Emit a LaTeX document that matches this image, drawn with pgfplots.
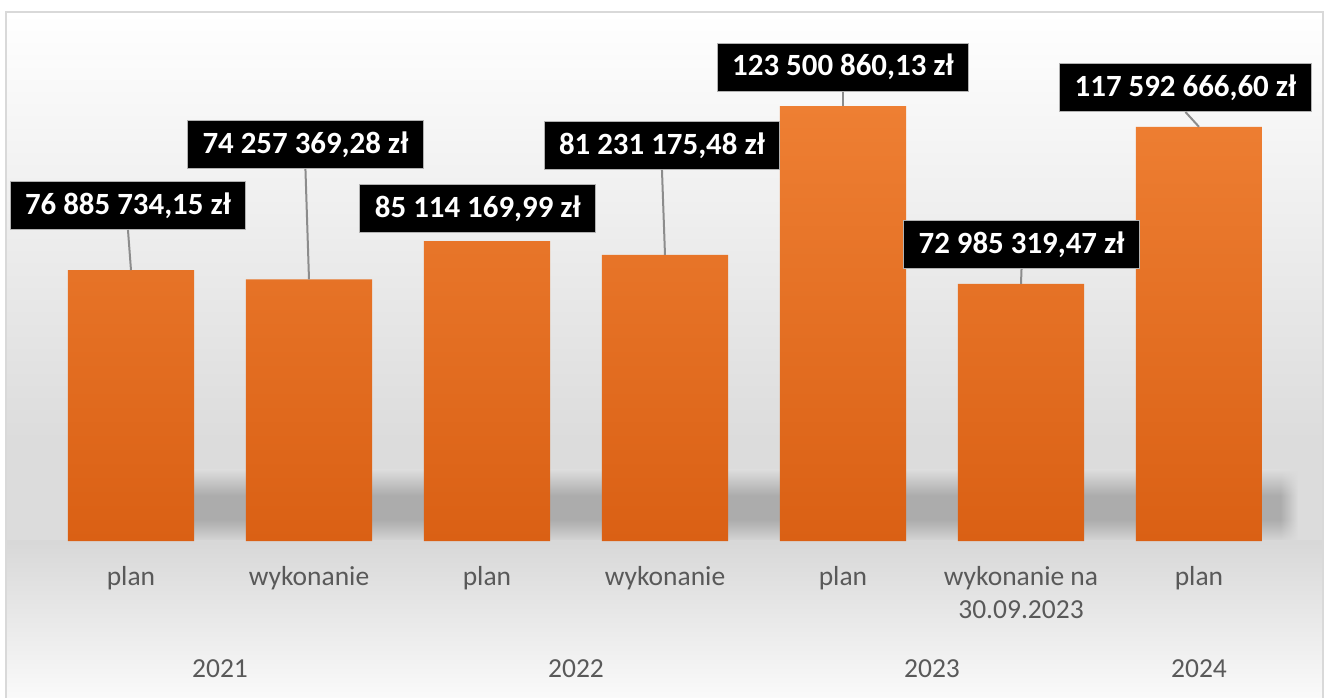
\documentclass[border=0pt]{standalone}
\usepackage{pgfplots}
\pgfplotsset{compat=1.18}
\usetikzlibrary{fadings}
\usepackage{fontspec}
\setmainfont{Carlito}

\definecolor{barTop}{HTML}{EE7F33}
\definecolor{barBot}{HTML}{DA6014}
\definecolor{lblGray}{HTML}{595959}
\definecolor{frameGray}{HTML}{D9D9D9}
\definecolor{leadGray}{HTML}{8C8C8C}
\definecolor{floorGray}{HTML}{DCDCDC}
\definecolor{shadowDark}{HTML}{ACACAC}
\definecolor{shadowLow}{HTML}{D6D6D6}

% floor shadow behind the bars
\pgfdeclareverticalshading{floorband}{100bp}{%
  color(0bp)=(shadowLow); color(25bp)=(shadowLow);
  color(40bp)=(shadowDark); color(57bp)=(shadowDark);
  color(75bp)=(floorGray); color(100bp)=(floorGray)}

\begin{document}
\begin{tikzpicture}[
    lbl/.style={fill=black, text=white, draw=gray!60, line width=0.5bp,
      font=\bfseries\fontsize{15.5}{18}\selectfont,
      inner xsep=7.5bp, inner ysep=0pt, minimum height=24bp},
    leader/.style={leadGray, line width=1bp},
    yr/.style={font=\fontsize{13.8}{16.5}\selectfont, text=lblGray, anchor=base, yshift=-68bp},
  ]
  % page = 1330 x 698 px, 0.5bp per px
  \path[use as bounding box] (0,0) rectangle (665bp,349bp);

  % background of the chart area
  \shade[top color=white, bottom color=floorGray] (3bp,128.8bp) rectangle (661.5bp,343bp);
  \fill[floorGray] (3bp,78.5bp) rectangle (661.5bp,129.2bp);
  \shade[shading=floorband] (34bp,78.5bp) rectangle (640.2bp,114bp);
  \shade[shading=floorband, path fading=east] (640bp,78.5bp) rectangle (649bp,114bp);
  \shade[top color=shadowLow!70!floorGray, bottom color=white!98!black] (3bp,0bp) rectangle (661.5bp,78.6bp);
  \draw[frameGray, line width=1.2bp] (3bp,-2bp) -- (3bp,343bp) -- (661.5bp,343bp) -- (661.5bp,-2bp);

  \begin{axis}[
    at={(21bp,78.5bp)}, anchor=south west,
    scale only axis,
    width=623bp, height=264.5bp,
    xmin=-0.5, xmax=6.5,
    ymin=0, ymax=150.2,
    clip=false,
    axis line style={draw=none},
    major tick length=0pt,
    ytick=\empty,
    xtick={0,...,6},
    xticklabels={plan, wykonanie, plan, wykonanie, plan, {wykonanie na\\30.09.2023}, plan},
    xticklabel style={font=\fontsize{13.8}{16.5}\selectfont, text=lblGray,
      align=center, anchor=north, inner sep=0pt, yshift=-12.5bp},
  ]
    % values in millions of zl
    \addplot[ybar, bar width=63bp, bar shift=0pt, draw=none,
      top color=barTop, bottom color=barBot]
      coordinates {
        (0,76.885734) (1,74.257369) (2,85.114170) (3,81.231175)
        (4,123.500860) (5,72.985319) (6,117.592667)
      };

    % data labels with leader lines
    \node[lbl] (l1) at (axis cs:-0.017,95.26) {76 885 734,15 zł};
    \draw[leader] (l1.south) -- (axis cs:0,76.885734);
    \node[lbl] (l2) at (axis cs:0.980,112.58) {74 257 369,28 zł};
    \draw[leader] (l2.south) -- (axis cs:1,74.257369);
    \node[lbl] (l3) at (axis cs:1.949,94.41) {85 114 169,99 zł};
    \node[lbl] (l4) at (axis cs:2.983,112.30) {81 231 175,48 zł};
    \draw[leader] (l4.south) -- (axis cs:3,81.231175);
    \node[lbl] (l5) at (axis cs:4.0,134.58) {123 500 860,13 zł};
    \draw[leader] (l5.south) -- (axis cs:4,123.500860);
    \node[lbl] (l6) at (axis cs:5.003,84.19) {72 985 319,47 zł};
    \draw[leader] (l6.south) -- (axis cs:5,72.985319);
    \node[lbl] (l7) at (axis cs:5.924,128.76) {117 592 666,60 zł};
    \draw[leader] (l7.south) -- (axis cs:6,117.592667);

    % year groups
    \node[yr] at (axis cs:0.5,0) {2021};
    \node[yr] at (axis cs:2.5,0) {2022};
    \node[yr] at (axis cs:4.5,0) {2023};
    \node[yr] at (axis cs:6,0) {2024};
  \end{axis}
\end{tikzpicture}
\end{document}
